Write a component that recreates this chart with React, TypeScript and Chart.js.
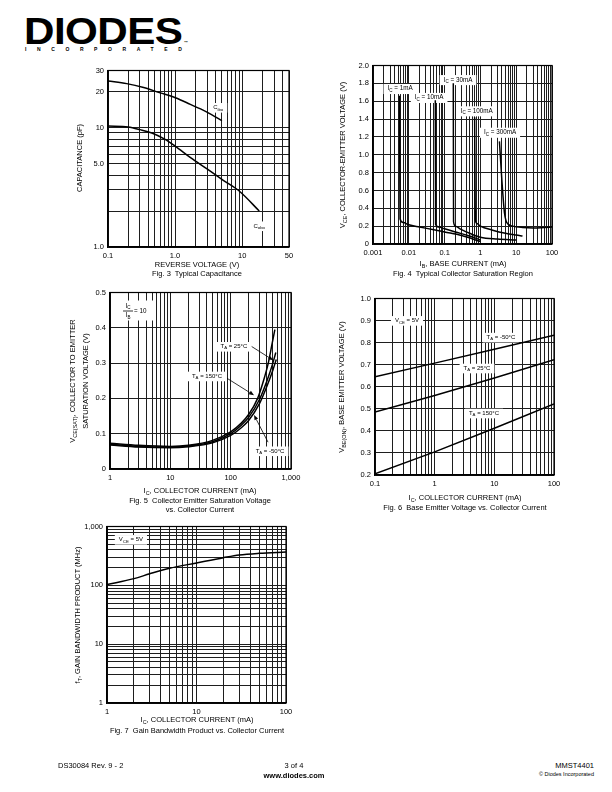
import React, { useEffect, useRef } from 'react';
import { Chart, registerables } from 'chart.js';

Chart.register(...registerables);

const FONT = "'Liberation Sans', Arial, Helvetica, sans-serif";

// ---------------- Fig. 3 Typical Capacitance ----------------
const fig3CiboVoltage = [0.1, 0.19, 0.34, 0.6, 0.95, 1.5, 2.4, 3.5, 5.0];
const fig3CiboPF = [24.5, 23.3, 21.6, 19.5, 18.0, 16.1, 14.3, 12.8, 11.4];
const fig3CoboVoltage = [0.1, 0.2, 0.3, 0.45, 0.7, 1.0, 1.7, 3.0, 5.3, 9.3, 18];
const fig3CoboPF = [10.3, 10.1, 9.6, 9.0, 8.0, 7.0, 5.6, 4.5, 3.6, 2.9, 2.0];
const fig3XTicks = [0.1, 1, 10, 50];
const fig3XTickLabels = ['0.1', '1.0', '10', '50'];
const fig3YTicks = [1, 5, 10, 20, 30];
const fig3YTickLabels = ['1.0', '5.0', '10', '20', '30'];

// ---------------- Fig. 4 Typical Collector Saturation Region ----------------
const fig4Ic1mA_IB = [0.0055, 0.0057, 0.007, 0.01, 0.02, 0.05, 0.1, 0.3, 1];
const fig4Ic1mA_VCE = [1.66, 0.28, 0.24, 0.215, 0.19, 0.16, 0.135, 0.095, 0.028];
const fig4Ic10mA_IB = [0.055, 0.056, 0.07, 0.1, 0.2, 0.5, 1];
const fig4Ic10mA_VCE = [1.61, 0.22, 0.19, 0.17, 0.135, 0.09, 0.045];
const fig4Ic30mA_IB = [0.175, 0.178, 0.2, 0.27, 0.5, 1, 3, 10];
const fig4Ic30mA_VCE = [1.8, 0.25, 0.2, 0.17, 0.12, 0.075, 0.055, 0.045];
const fig4Ic100mA_IB = [0.69, 0.72, 0.8, 1, 2.2, 5, 10, 15];
const fig4Ic100mA_VCE = [1.42, 0.27, 0.23, 0.2, 0.155, 0.12, 0.1, 0.09];
const fig4Ic300mA_IB = [3.4, 4.0, 4.7, 5.2, 6, 8, 15, 30, 60, 100];
const fig4Ic300mA_VCE = [1.15, 0.7, 0.35, 0.26, 0.22, 0.2, 0.185, 0.18, 0.185, 0.19];
const fig4XTicks = [0.001, 0.01, 0.1, 1, 10, 100];
const fig4XTickLabels = ['0.001', '0.01', '0.1', '1', '10', '100'];
const fig4YTicks = [0, 0.2, 0.4, 0.6, 0.8, 1.0, 1.2, 1.4, 1.6, 1.8, 2.0];
const fig4YTickLabels = ['0', '0.2', '0.4', '0.6', '0.8', '1.0', '1.2', '1.4', '1.6', '1.8', '2.0'];

// ---------------- Fig. 5 Collector Emitter Saturation Voltage ----------------
const fig5IcM50 = [1, 3, 10, 20, 50, 100, 150, 200, 300, 400, 500, 570];
const fig5VceM50 = [0.068, 0.062, 0.06, 0.063, 0.074, 0.095, 0.117, 0.138, 0.185, 0.235, 0.28, 0.31];
const fig5Ic25 = [1, 3, 10, 20, 50, 100, 150, 200, 300, 400, 500, 560];
const fig5Vce25 = [0.07, 0.064, 0.062, 0.065, 0.077, 0.1, 0.124, 0.147, 0.197, 0.25, 0.3, 0.33];
const fig5Ic150 = [1, 3, 10, 20, 50, 100, 150, 200, 280, 350, 420, 480, 540];
const fig5Vce150 = [0.073, 0.067, 0.064, 0.067, 0.081, 0.105, 0.13, 0.155, 0.2, 0.25, 0.3, 0.35, 0.395];
const fig5XTicks = [1, 10, 100, 1000];
const fig5XTickLabels = ['1', '10', '100', '1,000'];
const fig5YTicks = [0, 0.1, 0.2, 0.3, 0.4, 0.5];
const fig5YTickLabels = ['0', '0.1', '0.2', '0.3', '0.4', '0.5'];

// ---------------- Fig. 6 Base Emitter Voltage ----------------
const fig6Ic = [0.1, 1, 10, 100];
const fig6VbeM50 = [0.645, 0.707, 0.77, 0.833];
const fig6Vbe25 = [0.485, 0.56, 0.64, 0.722];
const fig6Vbe150 = [0.205, 0.305, 0.412, 0.522];
const fig6XTicks = [0.1, 1, 10, 100];
const fig6XTickLabels = ['0.1', '1', '10', '100'];
const fig6YTicks = [0.2, 0.3, 0.4, 0.5, 0.6, 0.7, 0.8, 0.9, 1.0];
const fig6YTickLabels = ['0.2', '0.3', '0.4', '0.5', '0.6', '0.7', '0.8', '0.9', '1.0'];

// ---------------- Fig. 7 Gain Bandwidth Product ----------------
const fig7Ic = [1, 2, 3, 5, 10, 20, 30, 50, 100];
const fig7Ft = [103, 130, 157, 195, 240, 295, 328, 350, 367];
const fig7XTicks = [1, 10, 100];
const fig7XTickLabels = ['1', '10', '100'];
const fig7YTicks = [1, 10, 100, 1000];
const fig7YTickLabels = ['1', '10', '100', '1,000'];

// ---------------- helpers ----------------
const PAD_L = 40;
const PAD_T = 8;
const PAD_R = 16;
const PAD_B = 22;

function logGrid(min: number, max: number): number[] {
  const out: number[] = [];
  for (let e = Math.floor(Math.log10(min)); e <= Math.ceil(Math.log10(max)); e++) {
    for (let m = 1; m <= 9; m++) {
      const v = Number((m * Math.pow(10, e)).toPrecision(6));
      if (v >= min * 0.9999 && v <= max * 1.0001) out.push(v);
    }
  }
  return out;
}

function pts(x: number[], y: number[]) {
  return x.map((v, i) => ({ x: v, y: y[i] }));
}

type Note =
  | { kind: 'label'; x: number; y: number; text: string; box?: boolean; size?: number }
  | { kind: 'arrow'; x1: number; y1: number; x2: number; y2: number }
  | { kind: 'frac'; x: number; y: number; num: string; den: string; tail: string };

interface AxisSpec {
  type: 'linear' | 'logarithmic';
  min: number;
  max: number;
  grid: number[];
  ticks: number[];
  labels: string[];
}

interface SeriesSpec {
  x: number[];
  y: number[];
  smooth: boolean;
}

interface ChartSpec {
  area: { L: number; T: number; R: number; B: number };
  xAxis: AxisSpec;
  yAxis: AxisSpec;
  series: SeriesSpec[];
  notes: Note[];
}

function tickLabel(ax: AxisSpec, v: number): string {
  for (let i = 0; i < ax.ticks.length; i++) {
    const t = ax.ticks[i];
    const tol = Math.max(Math.abs(t) * 1e-6, 1e-9);
    if (Math.abs(v - t) <= tol) return ax.labels[i];
  }
  return '';
}

function parseRich(s: string) {
  const parts: { t: string; sub: boolean }[] = [];
  const re = /_\{([^}]*)\}/g;
  let last = 0;
  let m: RegExpExecArray | null;
  while ((m = re.exec(s))) {
    if (m.index > last) parts.push({ t: s.slice(last, m.index), sub: false });
    parts.push({ t: m[1], sub: true });
    last = re.lastIndex;
  }
  if (last < s.length) parts.push({ t: s.slice(last), sub: false });
  return parts;
}

function richWidth(ctx: CanvasRenderingContext2D, s: string, fs: number) {
  let w = 0;
  for (const p of parseRich(s)) {
    ctx.font = `${p.sub ? fs * 0.72 : fs}px ${FONT}`;
    w += ctx.measureText(p.t).width;
  }
  return w;
}

function drawRich(ctx: CanvasRenderingContext2D, s: string, x: number, y: number, fs: number) {
  let cx = x;
  ctx.textBaseline = 'middle';
  ctx.textAlign = 'left';
  for (const p of parseRich(s)) {
    ctx.font = `${p.sub ? fs * 0.72 : fs}px ${FONT}`;
    ctx.fillText(p.t, cx, p.sub ? y + fs * 0.3 : y);
    cx += ctx.measureText(p.t).width;
  }
}

function makeNotesPlugin(notes: Note[]) {
  return {
    id: 'notes',
    beforeDatasetsDraw(chart: any) {
      const ctx: CanvasRenderingContext2D = chart.ctx;
      const xs = chart.scales.x;
      const ys = chart.scales.y;
      ctx.save();
      for (const n of notes) {
        if (n.kind === 'label') {
          const fs = n.size ?? 6.3;
          const px = xs.getPixelForValue(n.x);
          const py = ys.getPixelForValue(n.y);
          const w = richWidth(ctx, n.text, fs);
          if (n.box) {
            ctx.fillStyle = '#fff';
            ctx.fillRect(px - w / 2 - 4, py - fs * 0.75, w + 8, fs * 1.6);
          }
          ctx.fillStyle = '#000';
          drawRich(ctx, n.text, px - w / 2, py, fs);
        } else if (n.kind === 'frac') {
          const fs = 6.3;
          const px = xs.getPixelForValue(n.x);
          const py = ys.getPixelForValue(n.y);
          ctx.fillStyle = '#fff';
          ctx.fillRect(px - 8, py - 10, 34, 20);
          ctx.fillStyle = '#000';
          const wn = richWidth(ctx, n.num, fs);
          const wd = richWidth(ctx, n.den, fs);
          drawRich(ctx, n.num, px - wn / 2, py - 4.5, fs);
          drawRich(ctx, n.den, px - wd / 2, py + 5, fs);
          ctx.strokeStyle = '#000';
          ctx.lineWidth = 0.8;
          ctx.beginPath();
          ctx.moveTo(px - 5, py + 0.5);
          ctx.lineTo(px + 5, py + 0.5);
          ctx.stroke();
          drawRich(ctx, n.tail, px + 6, py + 0.5, fs);
        }
      }
      ctx.restore();
    },
    afterDatasetsDraw(chart: any) {
      const ctx: CanvasRenderingContext2D = chart.ctx;
      const xs = chart.scales.x;
      const ys = chart.scales.y;
      const a = chart.chartArea;
      ctx.save();
      for (const n of notes) {
        if (n.kind !== 'arrow') continue;
        const x1 = xs.getPixelForValue(n.x1);
        const y1 = ys.getPixelForValue(n.y1);
        const x2 = xs.getPixelForValue(n.x2);
        const y2 = ys.getPixelForValue(n.y2);
        const ang = Math.atan2(y2 - y1, x2 - x1);
        const hl = 5;
        const hw = 2;
        ctx.strokeStyle = '#000';
        ctx.fillStyle = '#000';
        ctx.lineWidth = 0.8;
        ctx.beginPath();
        ctx.moveTo(x1, y1);
        ctx.lineTo(x2 - Math.cos(ang) * hl, y2 - Math.sin(ang) * hl);
        ctx.stroke();
        ctx.beginPath();
        ctx.moveTo(x2, y2);
        ctx.lineTo(x2 - Math.cos(ang) * hl - Math.sin(ang) * hw, y2 - Math.sin(ang) * hl + Math.cos(ang) * hw);
        ctx.lineTo(x2 - Math.cos(ang) * hl + Math.sin(ang) * hw, y2 - Math.sin(ang) * hl - Math.cos(ang) * hw);
        ctx.closePath();
        ctx.fill();
      }
      ctx.strokeStyle = '#000';
      ctx.lineWidth = 1.2;
      ctx.strokeRect(a.left, a.top, a.right - a.left, a.bottom - a.top);
      ctx.restore();
    },
  };
}

function axisOptions(ax: AxisSpec, horizontal: boolean) {
  return {
    type: ax.type,
    min: ax.min,
    max: ax.max,
    afterBuildTicks: (s: any) => {
      s.ticks = ax.grid.map((v) => ({ value: v }));
    },
    afterFit: (s: any) => {
      if (horizontal) s.height = PAD_B;
      else s.width = PAD_L;
    },
    ticks: {
      autoSkip: false,
      maxRotation: 0,
      minRotation: 0,
      padding: 4,
      color: '#000',
      font: { family: FONT, size: 7.5 },
      callback: (v: any) => tickLabel(ax, Number(v)),
    },
    grid: { color: '#1e1e1e', lineWidth: 1, drawTicks: false },
    border: { display: true, color: '#000', width: 1.2 },
  };
}

function buildConfig(spec: ChartSpec) {
  return {
    type: 'line',
    data: {
      datasets: spec.series.map((s) => ({
        data: pts(s.x, s.y),
        borderColor: '#000',
        borderWidth: 1.5,
        pointRadius: 0,
        fill: false,
        tension: 0,
        cubicInterpolationMode: s.smooth ? 'monotone' : 'default',
      })),
    },
    options: {
      responsive: false,
      animation: false,
      events: [],
      layout: { padding: { left: 0, top: PAD_T, right: PAD_R, bottom: 0 } },
      plugins: { legend: { display: false }, tooltip: { enabled: false } },
      scales: { x: axisOptions(spec.xAxis, true), y: axisOptions(spec.yAxis, false) },
    },
    plugins: [makeNotesPlugin(spec.notes)],
  };
}

// ---------------- chart specs ----------------
const fig3Spec: ChartSpec = {
  area: { L: 108, T: 70, R: 289, B: 247 },
  xAxis: { type: 'logarithmic', min: 0.1, max: 50, grid: logGrid(0.1, 50), ticks: fig3XTicks, labels: fig3XTickLabels },
  yAxis: { type: 'logarithmic', min: 1, max: 30, grid: logGrid(1, 30), ticks: fig3YTicks, labels: fig3YTickLabels },
  series: [
    { x: fig3CiboVoltage, y: fig3CiboPF, smooth: true },
    { x: fig3CoboVoltage, y: fig3CoboPF, smooth: true },
  ],
  notes: [
    { kind: 'label', x: 4.4, y: 14.7, text: 'C_{ibo}', box: true, size: 6 },
    { kind: 'label', x: 18, y: 1.5, text: 'C_{obo}', box: true, size: 6 },
  ],
};

const fig4Spec: ChartSpec = {
  area: { L: 373, T: 65, R: 552, B: 244 },
  xAxis: { type: 'logarithmic', min: 0.001, max: 100, grid: logGrid(0.001, 100), ticks: fig4XTicks, labels: fig4XTickLabels },
  yAxis: { type: 'linear', min: 0, max: 2, grid: fig4YTicks, ticks: fig4YTicks, labels: fig4YTickLabels },
  series: [
    { x: fig4Ic1mA_IB, y: fig4Ic1mA_VCE, smooth: true },
    { x: fig4Ic10mA_IB, y: fig4Ic10mA_VCE, smooth: true },
    { x: fig4Ic30mA_IB, y: fig4Ic30mA_VCE, smooth: true },
    { x: fig4Ic100mA_IB, y: fig4Ic100mA_VCE, smooth: true },
    { x: fig4Ic300mA_IB, y: fig4Ic300mA_VCE, smooth: true },
  ],
  notes: [
    { kind: 'label', x: 0.0057, y: 1.74, text: 'I_{C} = 1mA', box: true },
    { kind: 'label', x: 0.037, y: 1.64, text: 'I_{C} = 10mA', box: true },
    { kind: 'label', x: 0.237, y: 1.84, text: 'I_{C} = 30mA', box: true },
    { kind: 'label', x: 0.79, y: 1.49, text: 'I_{C} = 100mA', box: true },
    { kind: 'label', x: 3.53, y: 1.25, text: 'I_{C} = 300mA', box: true },
  ],
};

const fig5Spec: ChartSpec = {
  area: { L: 110, T: 292, R: 291, B: 469 },
  xAxis: { type: 'logarithmic', min: 1, max: 1000, grid: logGrid(1, 1000), ticks: fig5XTicks, labels: fig5XTickLabels },
  yAxis: { type: 'linear', min: 0, max: 0.5, grid: fig5YTicks, ticks: fig5YTicks, labels: fig5YTickLabels },
  series: [
    { x: fig5IcM50, y: fig5VceM50, smooth: true },
    { x: fig5Ic25, y: fig5Vce25, smooth: true },
    { x: fig5Ic150, y: fig5Vce150, smooth: true },
  ],
  notes: [
    { kind: 'frac', x: 1.99, y: 0.449, num: 'I_{C}', den: 'I_{B}', tail: '= 10' },
    { kind: 'label', x: 113, y: 0.347, text: 'T_{A} = 25°C', box: true, size: 6 },
    { kind: 'label', x: 40.5, y: 0.263, text: 'T_{A} = 150°C', box: true, size: 6 },
    { kind: 'label', x: 449, y: 0.051, text: 'T_{A} = -50°C', box: true, size: 6 },
    { kind: 'arrow', x1: 223, y1: 0.347, x2: 509, y2: 0.308 },
    { kind: 'arrow', x1: 87, y1: 0.257, x2: 244, y2: 0.209 },
    { kind: 'arrow', x1: 416, y1: 0.076, x2: 244, y2: 0.153 },
  ],
};

const fig6Spec: ChartSpec = {
  area: { L: 375, T: 298, R: 554, B: 475 },
  xAxis: { type: 'logarithmic', min: 0.1, max: 100, grid: logGrid(0.1, 100), ticks: fig6XTicks, labels: fig6XTickLabels },
  yAxis: { type: 'linear', min: 0.2, max: 1.0, grid: fig6YTicks, ticks: fig6YTicks, labels: fig6YTickLabels },
  series: [
    { x: fig6Ic, y: fig6VbeM50, smooth: false },
    { x: fig6Ic, y: fig6Vbe25, smooth: false },
    { x: fig6Ic, y: fig6Vbe150, smooth: false },
  ],
  notes: [
    { kind: 'label', x: 0.344, y: 0.9, text: 'V_{CE} = 5V', box: true, size: 6 },
    { kind: 'label', x: 12.9, y: 0.824, text: 'T_{A} = -50°C', box: true, size: 6 },
    { kind: 'label', x: 5.12, y: 0.684, text: 'T_{A} = 25°C', box: true, size: 6 },
    { kind: 'label', x: 6.71, y: 0.48, text: 'T_{A} = 150°C', box: true, size: 6 },
  ],
};

const fig7Spec: ChartSpec = {
  area: { L: 107, T: 526, R: 286, B: 703 },
  xAxis: { type: 'logarithmic', min: 1, max: 100, grid: logGrid(1, 100), ticks: fig7XTicks, labels: fig7XTickLabels },
  yAxis: { type: 'logarithmic', min: 1, max: 1000, grid: logGrid(1, 1000), ticks: fig7YTicks, labels: fig7YTickLabels },
  series: [{ x: fig7Ic, y: fig7Ft, smooth: true }],
  notes: [{ kind: 'label', x: 1.85, y: 600, text: 'V_{CE} = 5V', box: true, size: 6 }],
};

// ---------------- components ----------------
function ChartCanvas({ spec }: { spec: ChartSpec }) {
  const ref = useRef<HTMLCanvasElement | null>(null);
  const { L, T, R, B } = spec.area;
  const w = R - L + PAD_L + PAD_R;
  const h = B - T + PAD_T + PAD_B;
  useEffect(() => {
    if (!ref.current) return;
    const chart = new Chart(ref.current, buildConfig(spec) as any);
    return () => chart.destroy();
  }, [spec]);
  return (
    <canvas
      ref={ref}
      width={w}
      height={h}
      style={{ position: 'absolute', left: L - PAD_L, top: T - PAD_T, width: w, height: h }}
    />
  );
}

const Sub = ({ children }: { children: React.ReactNode }) => (
  <span style={{ fontSize: '0.72em', position: 'relative', top: '0.3em' }}>{children}</span>
);

function Txt({
  x,
  y,
  children,
  size = 7.5,
  bold = false,
  align = 'center',
  rotate = false,
}: {
  x: number;
  y: number;
  children: React.ReactNode;
  size?: number;
  bold?: boolean;
  align?: 'left' | 'center' | 'right';
  rotate?: boolean;
}) {
  const tx = align === 'center' ? '-50%' : align === 'right' ? '-100%' : '0%';
  return (
    <div
      style={{
        position: 'absolute',
        left: x,
        top: y,
        transform: `translate(${tx}, -50%)${rotate ? ' rotate(-90deg)' : ''}`,
        fontFamily: FONT,
        fontSize: size,
        fontWeight: bold ? 700 : 400,
        lineHeight: 1,
        whiteSpace: 'nowrap',
        color: '#000',
      }}
    >
      {children}
    </div>
  );
}

export default function App() {
  return (
    <div
      style={{
        position: 'absolute',
        left: 0,
        top: 0,
        width: 612,
        height: 792,
        background: '#fff',
        overflow: 'hidden',
      }}
    >
      {/* Logo */}
      <div
        style={{
          position: 'absolute',
          left: 24,
          top: 13,
          fontFamily: FONT,
          fontWeight: 900,
          fontSize: 37,
          lineHeight: '37px',
          letterSpacing: -0.5,
          transform: 'scaleX(1.14)',
          transformOrigin: 'left top',
          color: '#000',
        }}
      >
        DIODES
      </div>
      <div
        style={{
          position: 'absolute',
          left: 184,
          top: 40,
          fontFamily: FONT,
          fontSize: 4,
          fontWeight: 700,
        }}
      >
        ™
      </div>
      <div
        style={{
          position: 'absolute',
          left: 25,
          top: 47,
          fontFamily: FONT,
          fontSize: 5,
          fontWeight: 900,
          letterSpacing: 10.6,
          lineHeight: 1,
          whiteSpace: 'nowrap',
        }}
      >
        INCORPORATED
      </div>

      <ChartCanvas spec={fig3Spec} />
      <ChartCanvas spec={fig4Spec} />
      <ChartCanvas spec={fig5Spec} />
      <ChartCanvas spec={fig6Spec} />
      <ChartCanvas spec={fig7Spec} />

      {/* Fig 3 text */}
      <Txt x={80} y={158} rotate>
        CAPACITANCE (pF)
      </Txt>
      <Txt x={197} y={265}>REVERSE VOLTAGE (V)</Txt>
      <Txt x={197} y={274}>Fig. 3&nbsp; Typical Capacitance</Txt>

      {/* Fig 4 text */}
      <Txt x={343} y={155} rotate>
        V<Sub>CE</Sub>, COLLECTOR-EMITTER VOLTAGE (V)
      </Txt>
      <Txt x={463} y={264}>
        I<Sub>B</Sub>, BASE CURRENT (mA)
      </Txt>
      <Txt x={463} y={274}>Fig. 4&nbsp; Typical Collector Saturation Region</Txt>

      {/* Fig 5 text */}
      <Txt x={73} y={381} rotate>
        V<Sub>CE(SAT)</Sub>, COLLECTOR TO EMITTER
      </Txt>
      <Txt x={86} y={381} rotate>
        SATURATION VOLTAGE (V)
      </Txt>
      <Txt x={200} y={491}>
        I<Sub>C</Sub>, COLLECTOR CURRENT (mA)
      </Txt>
      <Txt x={200} y={501}>Fig. 5&nbsp; Collector Emitter Saturation Voltage</Txt>
      <Txt x={200} y={510}>vs. Collector Current</Txt>

      {/* Fig 6 text */}
      <Txt x={342} y={387} rotate>
        V<Sub>BE(ON)</Sub>, BASE EMITTER VOLTAGE (V)
      </Txt>
      <Txt x={465} y={498}>
        I<Sub>C</Sub>, COLLECTOR CURRENT (mA)
      </Txt>
      <Txt x={465} y={508}>Fig. 6&nbsp; Base Emitter Voltage vs. Collector Current</Txt>

      {/* Fig 7 text */}
      <Txt x={78} y={615} rotate>
        f<Sub>T</Sub>, GAIN BANDWIDTH PRODUCT (MHz)
      </Txt>
      <Txt x={197} y={720}>
        I<Sub>C</Sub>, COLLECTOR CURRENT (mA)
      </Txt>
      <Txt x={197} y={731}>Fig. 7&nbsp; Gain Bandwidth Product vs. Collector Current</Txt>

      {/* Footer */}
      <Txt x={58} y={766} align="left">
        DS30084 Rev. 9 - 2
      </Txt>
      <Txt x={294} y={766}>3 of 4</Txt>
      <Txt x={294} y={776} size={7.5} bold>
        www.diodes.com
      </Txt>
      <Txt x={594} y={766} align="right">
        MMST4401
      </Txt>
      <Txt x={594} y={775} align="right" size={5.5}>
        © Diodes Incorporated
      </Txt>
    </div>
  );
}
